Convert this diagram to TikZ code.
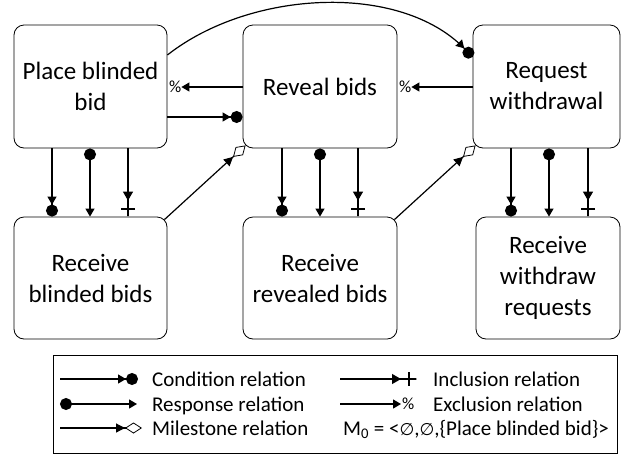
\documentclass[tikz,border=0pt]{standalone}
\usepackage{fontspec}
\setmainfont{Carlito}
\newfontfamily\symfont{DejaVu Sans}
\usetikzlibrary{arrows.meta}
\tikzset{
  box/.style={draw, rounded corners=10pt, line width=0.8pt, align=center, inner sep=0pt,
    font=\fontsize{25}{31}\selectfont},
  legtext/.style={anchor=base west, inner sep=0pt, font=\fontsize{21}{24}\selectfont},
  pct/.style={inner sep=1pt, font=\fontsize{17}{19}\selectfont},
  rel/.style={line width=1.2pt},
  condrel/.style={rel, -{Triangle[length=8pt,width=9pt] Circle[length=12pt]}},
  resprel/.style={rel, {Circle[length=12pt]}-{Triangle[length=8pt,width=9pt]}},
  milerel/.style={rel, -{Triangle[length=9pt,width=9pt] Diamond[open,length=17pt,width=11pt,line width=0.8pt]}},
  inclrel/.style={rel, -{Triangle[length=9pt,width=10pt] Rectangle[length=7pt,width=1.2pt] Bar[width=14pt,line width=2pt] Rectangle[length=7pt,width=1.2pt]}},
  exclrel/.style={rel, shorten >=14pt, -{Triangle[length=8pt,width=9pt]}},
}
\begin{document}
\begin{tikzpicture}[x=1pt, y=-1pt]
\useasboundingbox (0,0) rectangle (621,456);
% boxes
\node[box, minimum width=153pt, minimum height=123pt] (place) at (90.5,86.5) {Place blinded\\bid};
\node[box, minimum width=154pt, minimum height=123pt] (reveal) at (320,86.5) {Reveal bids};
\node[box, minimum width=147pt, minimum height=123pt] (request) at (546.5,86.5) {Request\\withdrawal};
\node[box, minimum width=153pt, minimum height=122pt] (blind) at (90.5,278) {Receive\\blinded bids};
\node[box, minimum width=154pt, minimum height=122pt] (revealed) at (320,278) {Receive\\revealed bids};
\node[box, minimum width=144pt, minimum height=122pt] (withdraw) at (548,278) {Receive\\withdraw\\requests};
% vertical relations
\draw[condrel] (place.south -| 52,0) -- (blind.north -| 52,0);
\draw[resprel] (place.south -| 90,0) -- (blind.north -| 90,0);
\draw[inclrel] (place.south -| 128,0) -- (blind.north -| 128,0);
\draw[condrel] (reveal.south -| 282,0) -- (revealed.north -| 282,0);
\draw[resprel] (reveal.south -| 320,0) -- (revealed.north -| 320,0);
\draw[inclrel] (reveal.south -| 358,0) -- (revealed.north -| 358,0);
\draw[condrel] (request.south -| 511,0) -- (withdraw.north -| 511,0);
\draw[resprel] (request.south -| 549,0) -- (withdraw.north -| 549,0);
\draw[inclrel] (request.south -| 588,0) -- (withdraw.north -| 588,0);
% horizontal relations
\draw[exclrel] (reveal.west |- 0,87) -- (place.east |- 0,87) node[pct, pos=1, anchor=west] {\%};
\draw[condrel] (place.east |- 0,117) -- (reveal.west |- 0,117);
\draw[exclrel] (request.west |- 0,87) -- (reveal.east |- 0,87) node[pct, pos=1, anchor=west] {\%};
\draw[condrel] (place.east |- 0,55) .. controls (250,-10) and (400,-18) .. (request.west |- 0,57);
% milestones
\draw[milerel] ([shift={(-3,3)}]blind.north east) -- ([shift={(3,-3)}]reveal.south west);
\draw[milerel] ([shift={(-3,3)}]revealed.north east) -- ([shift={(3,-3)}]request.south west);
% legend
\node[draw, line width=0.8pt, minimum width=564pt, minimum height=98pt, inner sep=0pt] (legend) at (335,404) {};
\coordinate (c1) at (60,379); \coordinate (c2) at (138,379);
\coordinate (r1) at (60,404); \coordinate (r2) at (137,404);
\coordinate (m1) at (60,428); \coordinate (m2) at (142,428);
\coordinate (i1) at (340,379); \coordinate (i2) at (417,379);
\coordinate (e1) at (340,404); \coordinate (e2) at (401,404);
\draw[condrel] (c1) -- (c2);
\draw[resprel] (r1) -- (r2);
\draw[milerel] (m1) -- (m2);
\draw[inclrel] (i1) -- (i2);
\draw[rel, -{Triangle[length=8pt,width=9pt]}] (e1) -- (e2);
\node[pct, anchor=west] (pctl) at (e2) {\%};
\node[legtext] (lc) at (152,386) {Condition relation};
\node[legtext] (lr) at (152,411) {Response relation};
\node[legtext] (lm) at (152,435) {Milestone relation};
\node[legtext] (li) at (433,386) {Inclusion relation};
\node[legtext] (le) at (433,411) {Exclusion relation};
\node[legtext] (lm0) at (343,435) {M\textsubscript{0} = <{\symfont\fontsize{17}{19}\selectfont ∅},{\symfont\fontsize{17}{19}\selectfont ∅},\{Place blinded bid\}>};
\end{tikzpicture}
\end{document}
